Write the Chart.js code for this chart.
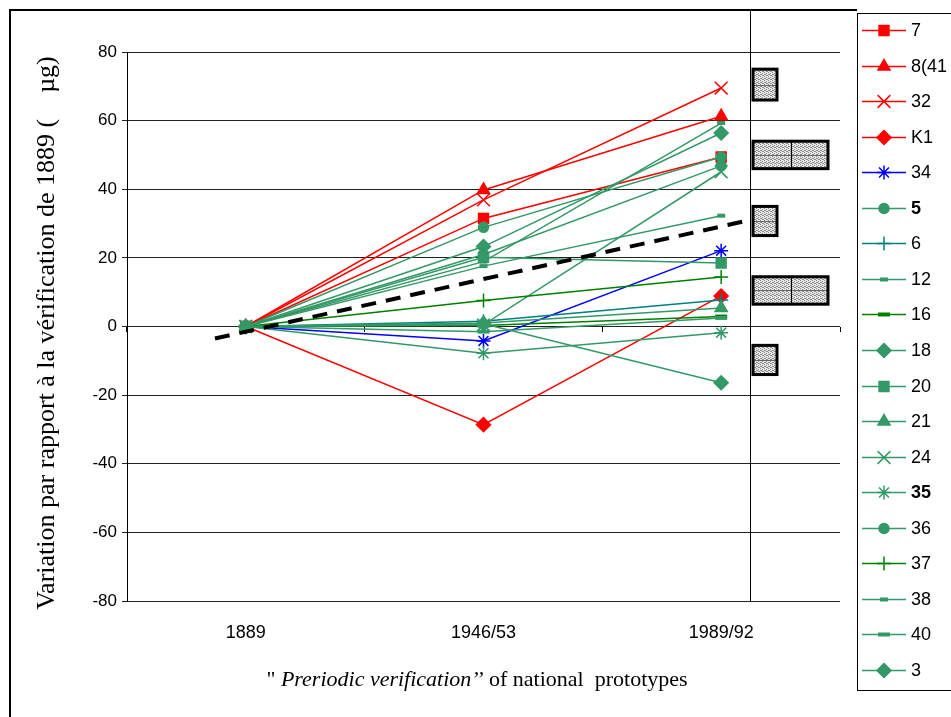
<!DOCTYPE html>
<html>
<head>
<meta charset="utf-8">
<script src="https://cdn.jsdelivr.net/npm/chart.js@4.4.1/dist/chart.umd.min.js"></script>
<style>
  html, body { margin: 0; padding: 0; background: #fff; }
  #wrap { position: relative; width: 951px; height: 717px; }
</style>
</head>
<body>
<div id="wrap"><canvas id="chart" width="951" height="717"></canvas></div>
<script>
// verification periods (category axis)
const periods = ['1889', '1946/53', '1989/92'];

// mass change relative to 1889, in micrograms
const seriesNames = ['7', '8(41)', '32', 'K1', '34', '5', '6', '12', '16', '18', '20', '21', '24', '35', '36', '37', '38', '40', '3'];
const k7 = [0, 31.5, 49.4];
const k8 = [0, 39.8, 61.3];
const k32 = [0, 36.9, 69.5];
const kK1 = [0, -28.6, 8.9];
const k34 = [0, -4.2, 22.1];
const k5 = [0, 28.9, 49.4];
const k6 = [0, 1.5, 7.7];
const k12 = [0, 18.9, 59.3];
const k16 = [0, 0.3, 2.9];
const k18 = [0, 23.3, 56.4];
const k20 = [0, 20.2, 18.5];
const k21 = [0, 1.0, 5.4];
const k24 = [0, 0.5, 45.1];
const k35 = [0, -7.8, -1.8];
const k36 = [0, 21.0, 46.8];
const k37 = [0, 7.6, 14.4];
const k38 = [0, 17.6, 32.3];
const k40 = [0, -1.5, 2.5];
const k3 = [0, 0.8, -16.4];
const seriesValues = [k7, k8, k32, kK1, k34, k5, k6, k12, k16, k18, k20, k21, k24, k35, k36, k37, k38, k40, k3];

// dashed trend line (x in category index units)
const trendX = [-0.13, 2.12];
const trendY = [-3.5, 31];

// hatched boxes in the right strip (value ranges, number of cells)
const boxLow = [66, 46, 26.5, 6.5, -14];
const boxHigh = [75, 54, 35, 14.5, -5.5];
const boxCells = [1, 2, 1, 2, 1];

const RED = '#ff0000', BLUE = '#0000ff', SEA = '#339966', TEAL = '#008080', GREEN = '#008000';
const styles = [
    { c: RED, p: 'rect', r: 7 },
    { c: RED, p: 'triangle', r: 7 },
    { c: RED, p: 'crossRot', r: 9 },
    { c: RED, p: 'rectRot', r: 7 },
    { c: BLUE, p: 'star', r: 7 },
    { c: SEA, p: 'circle', r: 5 },
    { c: TEAL, p: 'cross', r: 7 },
    { c: SEA, p: 'line', r: 4, bw: 4 },
    { c: GREEN, p: 'line', r: 6, bw: 4 },
    { c: SEA, p: 'rectRot', r: 7 },
    { c: SEA, p: 'rect', r: 7 },
    { c: SEA, p: 'triangle', r: 7 },
    { c: SEA, p: 'crossRot', r: 9 },
    { c: SEA, p: 'star', r: 7 },
    { c: SEA, p: 'circle', r: 5 },
    { c: GREEN, p: 'cross', r: 7 },
    { c: SEA, p: 'line', r: 4, bw: 4 },
    { c: SEA, p: 'line', r: 6, bw: 4 },
    { c: SEA, p: 'rectRot', r: 7 }
];
const boldLabels = ['5', '35'];

const sans = '"Liberation Sans", Arial, sans-serif';
const serif = '"Liberation Serif", "Times New Roman", serif';

const datasets = seriesValues.map((vals, i) => {
    const s = styles[i];
    return {
        label: seriesNames[i],
        data: vals,
        xAxisID: 'x',
        borderColor: s.c,
        backgroundColor: s.c,
        borderWidth: 1.5,
        pointStyle: s.p,
        pointRadius: s.r,
        pointHoverRadius: s.r,
        pointBorderWidth: s.bw || 1.5,
        pointBackgroundColor: s.c,
        pointBorderColor: s.c,
        tension: 0,
        order: -i
    };
});

datasets.push({
    label: 'trend',
    data: trendX.map((x, i) => ({ x: x, y: trendY[i] })),
    xAxisID: 'x2',
    borderColor: '#000',
    borderWidth: 4,
    borderDash: [15, 10],
    pointRadius: 0,
    order: -100
});

function makePattern(ctx) {
    const pc = document.createElement('canvas');
    pc.width = 4; pc.height = 4;
    const p = pc.getContext('2d');
    p.fillStyle = '#e8e8e8';
    p.fillRect(0, 0, 4, 4);
    p.fillStyle = '#8a8a8a';
    [[0, 0], [2, 1], [1, 2], [3, 3], [2, 3], [0, 2]].forEach(d => p.fillRect(d[0], d[1], 1, 1));
    return ctx.createPattern(pc, 'repeat');
}

const decor = {
    id: 'decor',
    beforeDraw(chart) {
        const ctx = chart.ctx;
        ctx.save();
        ctx.fillStyle = '#fff';
        ctx.fillRect(0, 0, chart.width, chart.height);
        ctx.restore();
    },
    afterDraw(chart) {
        const ctx = chart.ctx;
        const area = chart.chartArea;
        const y = chart.scales.y;
        const x2 = chart.scales.x2;
        ctx.save();

        // outer frame
        ctx.fillStyle = '#000';
        ctx.fillRect(9, 9, 848, 2);
        ctx.fillRect(9, 9, 2, 708);

        // divider of the right strip
        const divX = Math.round(x2.getPixelForValue(trendX[1])) + 0.5;
        ctx.strokeStyle = '#000';
        ctx.lineWidth = 1;
        ctx.beginPath();
        ctx.moveTo(divX, 11);
        ctx.lineTo(divX, area.bottom);
        ctx.stroke();

        // hatched boxes
        const pat = makePattern(ctx);
        const cellW = 24;
        boxLow.forEach((lo, i) => {
            const top = y.getPixelForValue(boxHigh[i]);
            const bot = y.getPixelForValue(lo);
            const left = divX + 2.5;
            const w = boxCells[i] === 1 ? cellW : 75;
            ctx.fillStyle = pat;
            ctx.fillRect(left, top, w, bot - top);
            ctx.strokeStyle = '#666';
            ctx.lineWidth = 1;
            ctx.beginPath();
            ctx.moveTo(left, Math.round((top + bot) / 2) + 0.5);
            ctx.lineTo(left + w, Math.round((top + bot) / 2) + 0.5);
            ctx.stroke();
            if (boxCells[i] === 2) {
                ctx.strokeStyle = '#000';
                ctx.beginPath();
                ctx.moveTo(Math.round(left + w / 2) + 0.5, top);
                ctx.lineTo(Math.round(left + w / 2) + 0.5, bot);
                ctx.stroke();
            }
            ctx.strokeStyle = '#000';
            ctx.lineWidth = 3;
            ctx.strokeRect(left, top, w, bot - top);
        });

        // y axis title
        ctx.fillStyle = '#000';
        ctx.save();
        ctx.translate(47, 333);
        ctx.rotate(-Math.PI / 2);
        ctx.font = '26px ' + serif;
        ctx.textAlign = 'center';
        ctx.textBaseline = 'middle';
        ctx.fillText('Variation par rapport à la vérification de 1889 (    µg)', 0, 0);
        ctx.restore();

        // x axis title, mixed italic
        const parts = [
            { t: '" ', f: '22px ' + serif },
            { t: 'Preriodic verification\u2019\u2019', f: 'italic 22px ' + serif },
            { t: ' of national  prototypes', f: '22px ' + serif }
        ];
        let total = 0;
        parts.forEach(p => { ctx.font = p.f; p.w = ctx.measureText(p.t).width; total += p.w; });
        let tx = 477 - total / 2;
        ctx.textAlign = 'left';
        ctx.textBaseline = 'middle';
        parts.forEach(p => { ctx.font = p.f; ctx.fillText(p.t, tx, 680); tx += p.w; });

        // legend
        ctx.strokeStyle = '#000';
        ctx.lineWidth = 1;
        ctx.strokeRect(857.5, 13.5, 110, 677);
        ctx.beginPath();
        ctx.rect(858, 14, 89, 676);
        ctx.clip();
        const h = Chart.helpers;
        seriesNames.forEach((name, i) => {
            const s = styles[i];
            const ly = Math.round(30 + i * 35.55) + 0.5;
            ctx.strokeStyle = s.c;
            ctx.fillStyle = s.c;
            ctx.lineWidth = 1.5;
            ctx.setLineDash([]);
            ctx.beginPath();
            ctx.moveTo(862, ly);
            ctx.lineTo(906, ly);
            ctx.stroke();
            ctx.lineWidth = s.bw || 1.5;
            h.drawPoint(ctx, { pointStyle: s.p, radius: s.r, borderWidth: s.bw || 1.5, rotation: 0 }, 884, ly);
            ctx.fillStyle = '#000';
            ctx.font = (boldLabels.includes(name) ? 'bold ' : '') + '18px ' + sans;
            ctx.textAlign = 'left';
            ctx.textBaseline = 'middle';
            ctx.fillText(name, 911, ly + 1);
        });

        ctx.restore();
    }
};

new Chart(document.getElementById('chart'), {
    type: 'line',
    data: { labels: periods, datasets: datasets },
    options: {
        responsive: false,
        animation: false,
        layout: { padding: { left: 0, top: 52, right: 111, bottom: 0 } },
        plugins: { legend: { display: false }, tooltip: { enabled: false } },
        scales: {
            x: {
                type: 'category',
                offset: true,
                grid: { display: false, drawTicks: false },
                border: { display: false },
                ticks: { color: '#000', font: { size: 18, family: sans }, padding: 21 },
                afterFit(s) { s.height = 116; }
            },
            xz: {
                type: 'category',
                position: { y: 0 },
                offset: true,
                grid: { offset: true, drawOnChartArea: false, drawTicks: true, tickLength: 5, color: '#000' },
                border: { display: false },
                ticks: { display: false }
            },
            x2: { type: 'linear', display: false, min: -0.5, max: 2.5 },
            y: {
                min: -80,
                max: 80,
                ticks: { stepSize: 20, color: '#000', font: { size: 17, family: sans }, padding: 5 },
                grid: { color: '#222', lineWidth: 1, tickLength: 5, drawTicks: true },
                border: { display: true, color: '#000', width: 1 },
                afterFit(s) { s.width = 127; }
            }
        }
    },
    plugins: [decor]
});
</script>
</body>
</html>
